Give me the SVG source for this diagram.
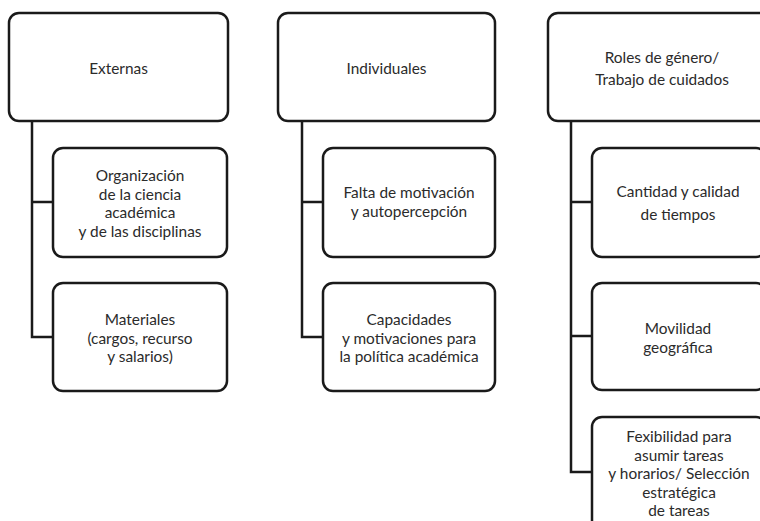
<svg xmlns="http://www.w3.org/2000/svg" width="760" height="521" viewBox="0 0 760 521">
<style>
.box{fill:#fff;stroke:#1a1a1a;stroke-width:2.5}
.t{font-family:Lato,"Open Sans","Liberation Sans",sans-serif;font-size:15.4px;fill:#2b2b2b;text-anchor:middle}
.c{fill:none;stroke:#1a1a1a;stroke-width:2.5}
</style>
<rect width="760" height="521" fill="#fff"/>
<g id="connectors">
<path class="c" d="M32,121 V337 H53 M32,202 H53"/>
<path class="c" d="M302,121 V337 H323 M302,202 H323"/>
<path class="c" d="M571,121 V472 H592 M571,202 H592 M571,336 H592"/>
</g>
<g id="externas">
<rect class="box" x="9" y="13" width="219" height="108" rx="10"/>
<text class="t" x="118.5" y="74">Externas</text>
</g>
<g id="organizacion">
<rect class="box" x="53" y="148" width="174" height="109" rx="10"/>
<text class="t" x="140" y="181">Organización</text>
<text class="t" x="140" y="199.5">de la ciencia</text>
<text class="t" x="140" y="218">académica</text>
<text class="t" x="140" y="236.5">y de las disciplinas</text>
</g>
<g id="materiales">
<rect class="box" x="53" y="283" width="174" height="108" rx="10"/>
<text class="t" x="140" y="325">Materiales</text>
<text class="t" x="140" y="343.5">(cargos, recurso</text>
<text class="t" x="140" y="362">y salarios)</text>
</g>
<g id="individuales">
<rect class="box" x="278" y="13" width="217" height="108" rx="10"/>
<text class="t" x="386.5" y="74">Individuales</text>
</g>
<g id="falta">
<rect class="box" x="323" y="148" width="172" height="109" rx="10"/>
<text class="t" x="409" y="198">Falta de motivación</text>
<text class="t" x="409" y="217">y autopercepción</text>
</g>
<g id="capacidades">
<rect class="box" x="323" y="283" width="172" height="108" rx="10"/>
<text class="t" x="409" y="325">Capacidades</text>
<text class="t" x="409" y="343.5">y motivaciones para</text>
<text class="t" x="409" y="362">la política académica</text>
</g>
<g id="roles">
<rect class="box" x="548" y="13" width="222" height="108" rx="10"/>
<text class="t" x="662" y="63">Roles de género/</text>
<text class="t" x="662" y="85">Trabajo de cuidados</text>
</g>
<g id="cantidad">
<rect class="box" x="592" y="148" width="174" height="109" rx="10"/>
<text class="t" x="678" y="197">Cantidad y calidad</text>
<text class="t" x="678" y="220">de tiempos</text>
</g>
<g id="movilidad">
<rect class="box" x="592" y="283" width="174" height="107" rx="10"/>
<text class="t" x="678" y="334">Movilidad</text>
<text class="t" x="678" y="352.5">geográfica</text>
</g>
<g id="flexibilidad">
<rect class="box" x="592" y="417" width="174" height="120" rx="10"/>
<text class="t" x="679" y="442">Fexibilidad para</text>
<text class="t" x="679" y="460.5">asumir tareas</text>
<text class="t" x="679" y="479">y horarios/ Selección</text>
<text class="t" x="679" y="497.5">estratégica</text>
<text class="t" x="679" y="516">de tareas</text>
</g>
</svg>
